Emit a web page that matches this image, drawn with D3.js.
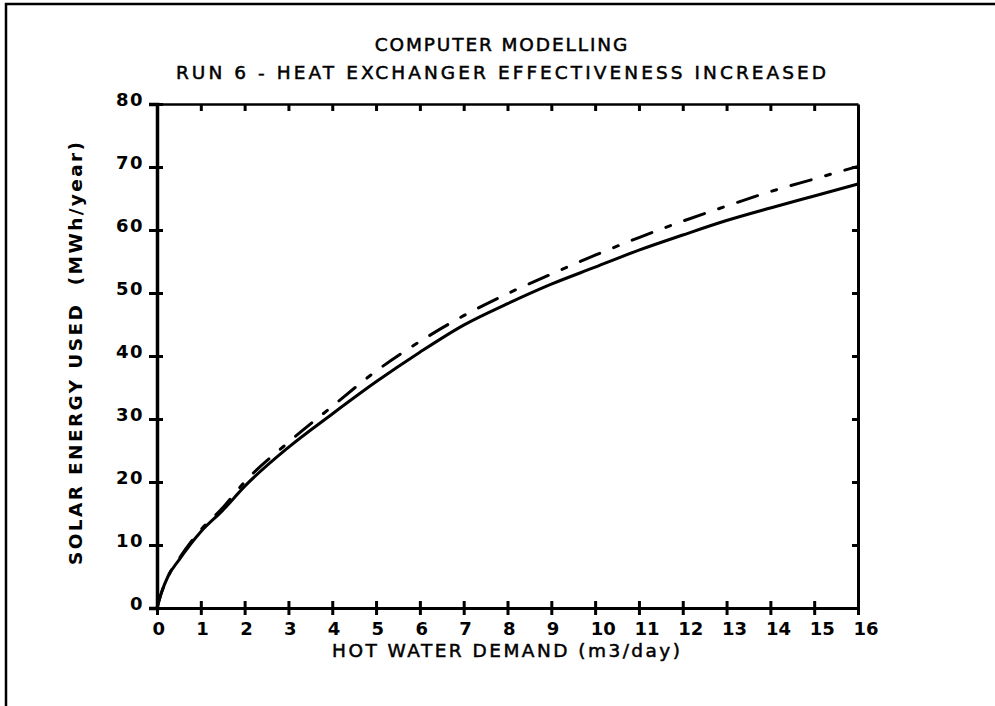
<!DOCTYPE html>
<html>
<head>
<meta charset="utf-8">
<script src="https://cdn.jsdelivr.net/npm/d3@7"></script>
<style>
  body { margin: 0; background: #fff; }
  svg { display: block; }
  text { font-family: "DejaVu Sans", sans-serif; fill: #000; white-space: pre; }
</style>
</head>
<body>
<svg id="chart" width="995" height="706"></svg>
<script>
// Axis ticks
const xTicks = d3.range(0, 17);
const yTicks = [0, 10, 20, 30, 40, 50, 60, 70, 80];

// Hot water demand (m3/day)
const demand = [0, 0.1, 0.25, 0.5, 1, 1.5, 2, 3, 4, 5, 6, 7, 8, 9, 10, 11, 12, 13, 14, 15, 16];
// Solar energy used (MWh/year), reference run (solid)
const energyBase = [0, 2.4, 5.0, 7.6, 12.1, 15.5, 19.3, 25.5, 30.8, 35.9, 40.6, 44.9, 48.3, 51.4, 54.1, 56.8, 59.2, 61.5, 63.5, 65.4, 67.3];
// Solar energy used (MWh/year), heat exchanger effectiveness increased (dash-dot)
const energyRun6 = [0, 2.4, 5.0, 7.8, 12.4, 15.9, 20.0, 26.3, 32.0, 37.6, 42.3, 46.4, 49.9, 53.0, 56.0, 58.8, 61.4, 63.8, 66.1, 68.1, 70.1];

const titleLines = ["COMPUTER MODELLING", "RUN 6 - HEAT EXCHANGER EFFECTIVENESS INCREASED"];
const xTitle = "HOT WATER DEMAND (m3/day)";
const yTitle = "SOLAR ENERGY USED  (MWh/year)";

const svg = d3.select("#chart");

const x = d3.scaleLinear().domain([0, 16]).range([157, 858]);
const y = d3.scaleLinear().domain([0, 80]).range([608, 104]);

// Page frame (left and top edges)
svg.append("path")
  .attr("d", "M6,706 L6,4 L995,4")
  .attr("fill", "none").attr("stroke", "#000").attr("stroke-width", 2.5);

// Titles (pen-plotted lettering: thin outline stroke thickens the glyphs)
const charW = 14.2;
titleLines.forEach((t, i) => {
  svg.append("text")
    .attr("x", 501).attr("y", 51 + i * 28)
    .attr("text-anchor", "middle")
    .attr("font-size", 18.5)
    .attr("stroke", "#000").attr("stroke-width", 0.5)
    .attr("textLength", t.length * charW - 3)
    .attr("lengthAdjust", "spacing")
    .text(t);
});

// Frame of plot: top and right edges with inward ticks
const topAxis = svg.append("g").attr("transform", `translate(0,${y(80)})`)
  .call(d3.axisTop(x).tickValues(xTicks.slice(1, -1)).tickSizeOuter(0).tickSizeInner(-7).tickFormat(""));
const rightAxis = svg.append("g").attr("transform", `translate(${x(16)},0)`)
  .call(d3.axisRight(y).tickValues(yTicks.slice(1, -1)).tickSizeOuter(0).tickSizeInner(-6).tickFormat(""));

// Bottom axis with crossing ticks
const bottomAxis = svg.append("g").attr("transform", `translate(0,${y(0)})`)
  .call(d3.axisBottom(x).tickValues(xTicks).tickSizeOuter(0).tickSize(7).tickFormat(d3.format("d")));
bottomAxis.selectAll(".tick line").attr("y1", -7).attr("y2", 7);
bottomAxis.selectAll(".tick text")
  .attr("y", 27).attr("dy", null)
  .attr("x", -5)
  .attr("text-anchor", "start")
  .attr("font-size", 18).attr("font-weight", "bold");

// Left axis with crossing ticks
const leftAxis = svg.append("g").attr("transform", `translate(${x(0)},0)`)
  .call(d3.axisLeft(y).tickValues(yTicks).tickSizeOuter(0).tickSize(8).tickFormat(d3.format("d")));
leftAxis.selectAll(".tick line").attr("x1", -8).attr("x2", 6);
leftAxis.selectAll(".tick text")
  .attr("x", -13).attr("dy", null).attr("y", 1)
  .attr("text-anchor", "end")
  .attr("font-size", 18).attr("font-weight", "bold")
  .attr("letter-spacing", 1.5);

[topAxis, rightAxis, bottomAxis, leftAxis].forEach(g => {
  g.attr("font-family", null).attr("font-size", null);
  g.selectAll(".domain, .tick line").attr("stroke", "#000").attr("stroke-width", 3);
});
leftAxis.select(".domain").attr("stroke-width", 3.5);
topAxis.select(".domain").attr("stroke-width", 2.5);

// Axis titles
svg.append("text")
  .attr("x", 506).attr("y", 657)
  .attr("text-anchor", "middle")
  .attr("font-size", 18.5)
  .attr("stroke", "#000").attr("stroke-width", 0.5)
  .attr("textLength", 348).attr("lengthAdjust", "spacing")
  .text(xTitle);

svg.append("text")
  .attr("transform", "translate(82,353.5) rotate(-90)")
  .attr("text-anchor", "middle")
  .attr("font-size", 18.5).attr("font-weight", "bold")
  .attr("textLength", 423).attr("lengthAdjust", "spacing")
  .text(yTitle);

// Curves
const line = d3.line()
  .x((d, i) => x(demand[i]))
  .y(d => y(d))
  .curve(d3.curveMonotoneX);

svg.append("path")
  .datum(energyBase)
  .attr("d", line)
  .attr("fill", "none").attr("stroke", "#000").attr("stroke-width", 3)
  .attr("stroke-linejoin", "round");

svg.append("path")
  .datum(energyRun6)
  .attr("d", line)
  .attr("fill", "none").attr("stroke", "#000").attr("stroke-width", 3)
  .attr("stroke-linecap", "round")
  .attr("stroke-dasharray", "21,15,5,15");
</script>
</body>
</html>
